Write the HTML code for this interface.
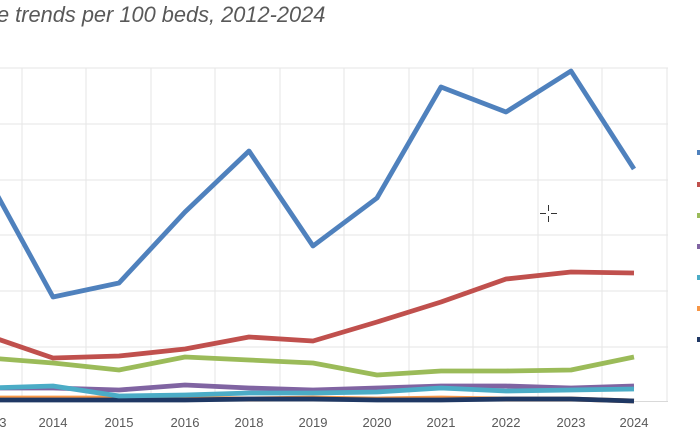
<!DOCTYPE html>
<html><head><style>
body{margin:0;background:#fff;width:700px;height:441px;overflow:hidden}
svg{display:block}
</style></head><body>
<svg width="700" height="441" viewBox="0 0 700 441" font-family="Liberation Sans, sans-serif">
<text x="-3" y="22" font-size="21.8" font-style="italic" fill="#595959">e trends per 100 beds, 2012-2024</text>
<g stroke="#e6e6e6" stroke-width="1">
<line x1="0" y1="68" x2="668" y2="68"/><line x1="0" y1="124" x2="668" y2="124"/><line x1="0" y1="180" x2="668" y2="180"/><line x1="0" y1="235" x2="668" y2="235"/><line x1="0" y1="291" x2="668" y2="291"/><line x1="0" y1="347" x2="668" y2="347"/><line x1="0" y1="401.5" x2="668" y2="401.5" stroke="#d9d9d9"/>
<line x1="22" y1="68" x2="22" y2="401"/><line x1="86" y1="68" x2="86" y2="401"/><line x1="151" y1="68" x2="151" y2="401"/><line x1="215" y1="68" x2="215" y2="401"/><line x1="280" y1="68" x2="280" y2="401"/><line x1="344" y1="68" x2="344" y2="401"/><line x1="409" y1="68" x2="409" y2="401"/><line x1="473" y1="68" x2="473" y2="401"/><line x1="538" y1="68" x2="538" y2="401"/><line x1="602" y1="68" x2="602" y2="401"/><line x1="667" y1="68" x2="667" y2="401"/>
</g>
<g fill="none" stroke-width="4.8" stroke-linejoin="round">
<polyline stroke="#f79646" points="-11,398 53,398 119,398 185,398 249,399 313,398 377,399 441,398 506,399 571,399 634,401"/>
<polyline stroke="#1f3864" points="-11,400 53,400 119,400 185,400 249,399 313,399 377,400 441,400 506,399 571,399 634,401"/>
<polyline stroke="#8064a2" points="-11,388 53,388 119,390 185,385 249,388 313,390 377,388 441,386 506,386 571,388 634,386"/>
<polyline stroke="#4bacc6" points="-11,388 53,386 119,396 185,395 249,393 313,393 377,392 441,388 506,391 571,390 634,389"/>
<polyline stroke="#9bbb59" points="-11,358 53,363 119,370 185,357 249,360 313,363 377,375 441,371 506,371 571,370 634,357"/>
<polyline stroke="#c0504d" points="-11,336 53,358 119,356 185,349 249,337 313,341 377,322 441,302 506,279 571,272 634,273"/>
<polyline stroke="#4f81bd" points="-11,180 53,297 119,283 185,212 249,151 313,246 377,198 441,87 506,112 571,71 634,169"/>
</g>
<g font-size="13" fill="#595959" text-anchor="middle">
<text x="-8" y="427">2013</text><text x="53" y="427">2014</text><text x="119" y="427">2015</text><text x="185" y="427">2016</text><text x="249" y="427">2018</text><text x="313" y="427">2019</text><text x="377" y="427">2020</text><text x="441" y="427">2021</text><text x="506" y="427">2022</text><text x="571" y="427">2023</text><text x="634" y="427">2024</text>
</g>
<g>
<rect x="697" y="150" width="5" height="5" fill="#4f81bd"/>
<rect x="697" y="182" width="5" height="5" fill="#c0504d"/>
<rect x="697" y="213" width="5" height="5" fill="#9bbb59"/>
<rect x="697" y="244" width="5" height="5" fill="#8064a2"/>
<rect x="697" y="275" width="5" height="5" fill="#4bacc6"/>
<rect x="697" y="306" width="5" height="5" fill="#f79646"/>
<rect x="697" y="337" width="5" height="5" fill="#1f3864"/>
</g>
<g stroke="#333" stroke-width="1">
<line x1="540" y1="213.5" x2="546" y2="213.5"/><line x1="551" y1="213.5" x2="557" y2="213.5"/>
<line x1="548.5" y1="205" x2="548.5" y2="211"/><line x1="548.5" y1="216" x2="548.5" y2="222"/>
</g>
</svg>
</body></html>
